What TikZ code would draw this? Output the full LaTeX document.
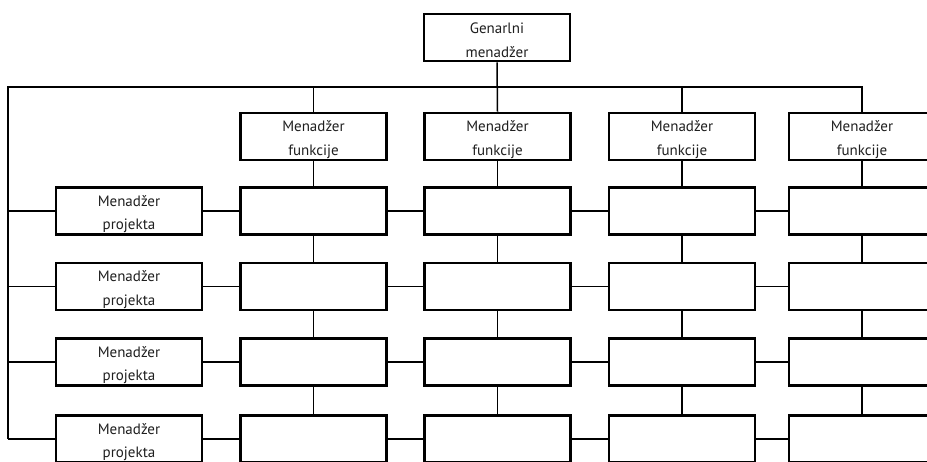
\documentclass[tikz,border=0pt]{standalone}
\usepackage{fontspec}
\setmainfont{PT Sans}
\begin{document}
\begin{tikzpicture}[x=1pt,y=-1pt,
  box/.style={draw=black,line width=2.6pt,minimum width=146pt,minimum height=47pt,inner sep=0pt,fill=white},
  lbl/.style={inner sep=0pt,align=center,font=\fontsize{15}{23.5}\selectfont,text=black!88},
  conn/.style={draw=black,line width=1.5pt}]
\useasboundingbox (0,0) rectangle (927,462);
\clip (0,0) rectangle (927,462);
\fill[white] (0,0) rectangle (927,462);
% top
\node[box] (gm) at (497,37.5) {};
\node[lbl] (gmt) at ([yshift=-3pt]gm.center) {Genarlni\\menadžer};
% function managers
\foreach \c/\x in {1/313.5,2/497.5,3/682,4/862}{
  \node[box] (f\c) at (\x,136.5) {};
  \node[lbl] (f\c t) at ([yshift=-3pt]f\c.center) {Menadžer\\funkcije};
}
% project managers and cells
\foreach \r/\y in {1/211,2/286.5,3/362,4/439}{
  \node[box] (p\r) at (129,\y) {};
  \node[lbl] (p\r t) at ([yshift=-3pt]p\r.center) {Menadžer\\projekta};
  \node[box] (c1\r) at (313.5,\y) {};
  \node[box] (c2\r) at (497.5,\y) {};
  \node[box] (c3\r) at (682,\y) {};
  \node[box] (c4\r) at (862,\y) {};
}
\coordinate (tl) at (8,87);
\coordinate (tr) at (862,87);
\coordinate (bl) at (8,439);
\draw[conn] (bl) -- (tl) -- (tr) -- (f4.north);
\draw[conn] (gm.south) -- (f2.north);
\draw[conn] (f1.north |- tl) -- (f1.north);
\draw[conn] (f3.north |- tl) -- (f3.north);
\foreach \r in {1,2,3,4}{
  \draw[conn] (tl |- p\r.west) -- (p\r.west);
  \draw[conn] (p\r.east) -- (c1\r.west);
  \draw[conn] (c1\r.east) -- (c2\r.west);
  \draw[conn] (c2\r.east) -- (c3\r.west);
  \draw[conn] (c3\r.east) -- (c4\r.west);
}
\foreach \c in {1,2,3,4}{
  \draw[conn] (f\c.south) -- (c\c1.north);
  \draw[conn] (c\c1.south) -- (c\c2.north);
  \draw[conn] (c\c2.south) -- (c\c3.north);
  \draw[conn] (c\c3.south) -- (c\c4.north);
}
\end{tikzpicture}
\end{document}
